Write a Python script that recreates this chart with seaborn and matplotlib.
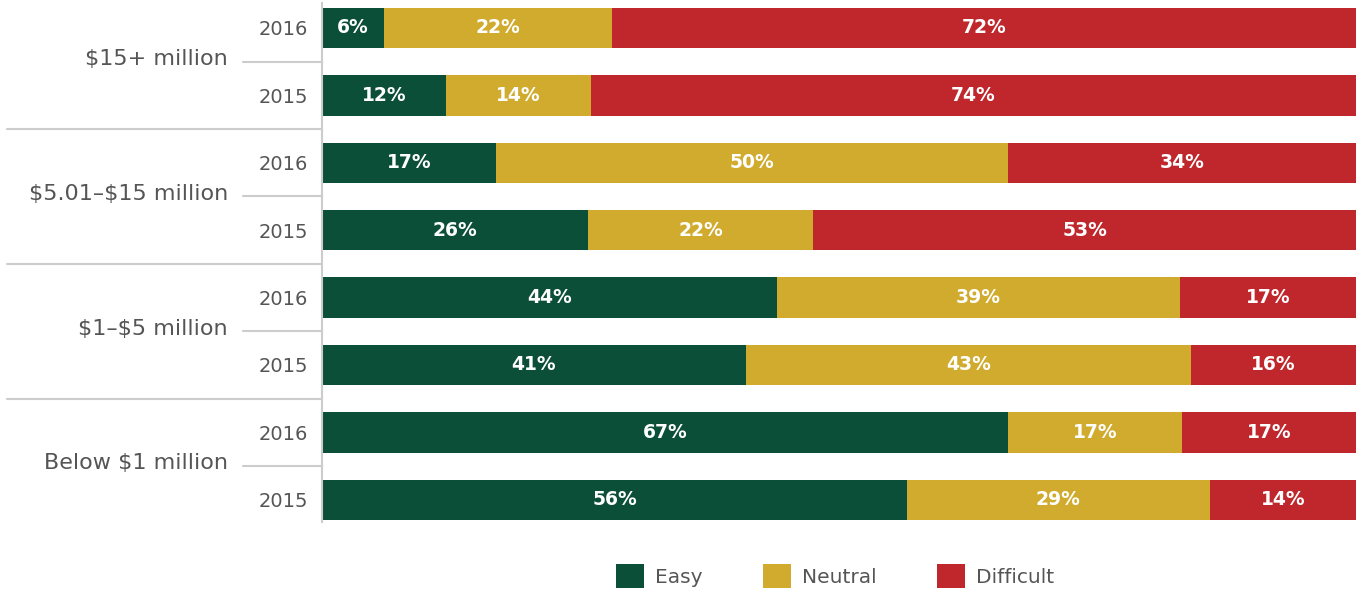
import matplotlib.pyplot as plt
import seaborn as sns
import pandas as pd
from matplotlib.patches import Patch

# chart data
groups = ["$15+ million", "$5.01–$15 million", "$1–$5 million", "Below $1 million"]
years = ["2016", "2015"]
easy = [6, 12, 17, 26, 44, 41, 67, 56]
neutral = [22, 14, 50, 22, 39, 43, 17, 29]
difficult = [72, 74, 34, 53, 17, 16, 17, 14]
series = ["Easy", "Neutral", "Difficult"]
colors = ["#0b4f38", "#d0ab2e", "#c0272d"]

sns.set_style("white")
plt.rcParams["font.family"] = ["DejaVu Sans"]

rows = [f"{g} {y}" for g in groups for y in years]
df = pd.DataFrame({"row": rows, "Easy": easy, "Neutral": neutral, "Difficult": difficult})
total = df[series].sum(axis=1)
# bars are drawn as shares of the full width
for s in series:
    df[s + "_w"] = df[s] / total * 100
df["c1"] = df["Easy_w"]
df["c2"] = df["c1"] + df["Neutral_w"]
df["c3"] = df["c2"] + df["Difficult_w"]

fig = plt.figure(figsize=(13.64, 5.92), dpi=100)
ax = fig.add_axes([322 / 1364, 1 - 522 / 592, 1034 / 1364, 519 / 592])

# overlay cumulative bars (back to front) to get the stacked look
for col, c in zip(["c3", "c2", "c1"], colors[::-1]):
    sns.barplot(data=df, x=col, y="row", order=rows, color=c, saturation=1,
                orient="h", width=0.6, linewidth=0, errorbar=None, ax=ax)

# segment labels
for i in range(len(rows)):
    starts = [0, df["c1"][i], df["c2"][i]]
    widths = [df["Easy_w"][i], df["Neutral_w"][i], df["Difficult_w"][i]]
    vals = [easy[i], neutral[i], difficult[i]]
    for st, w, v in zip(starts, widths, vals):
        ax.text(st + w / 2, i, f"{v}%", ha="center", va="center", color="white",
                fontsize=13.5, fontweight="bold")

ax.set_xlim(0, 100)
ax.set_ylim(len(rows) - 1 + 0.33, -0.37)
ax.set_xlabel("")
ax.set_ylabel("")
ax.set_xticks([])
ax.set_yticks(range(len(rows)))
ax.set_yticklabels(years * len(groups), fontsize=14, color="#555555")
ax.tick_params(axis="y", length=0, pad=10)
for sp in ["top", "right", "bottom"]:
    ax.spines[sp].set_visible(False)
ax.spines["left"].set_color("#cccccc")
ax.spines["left"].set_linewidth(1.5)

# group labels and separator lines
tr = ax.get_yaxis_transform()
for k, g in enumerate(groups):
    mid = 2 * k + 0.5
    ax.text(-(322 - 228) / 1034, mid - 0.04, g, transform=tr, ha="right", va="center",
            fontsize=16, color="#555555", parse_math=False)
    ax.plot([-(322 - 243) / 1034, 0], [mid, mid], transform=tr, color="#cccccc",
            lw=1.5, clip_on=False)
    if k < len(groups) - 1:
        ax.plot([-(322 - 7) / 1034, 0], [mid + 1, mid + 1], transform=tr,
                color="#cccccc", lw=1.5, clip_on=False)

handles = [Patch(facecolor=c, edgecolor="none") for c in colors]
fig.legend(handles, series, loc="center", bbox_to_anchor=(835 / 1364, 1 - 576 / 592),
           ncol=3, frameon=False, fontsize=14.5, handlelength=1.4, handleheight=1.4,
           columnspacing=3.0, handletextpad=0.55, labelcolor="#555555")

fig.savefig("out.png", dpi=100)
